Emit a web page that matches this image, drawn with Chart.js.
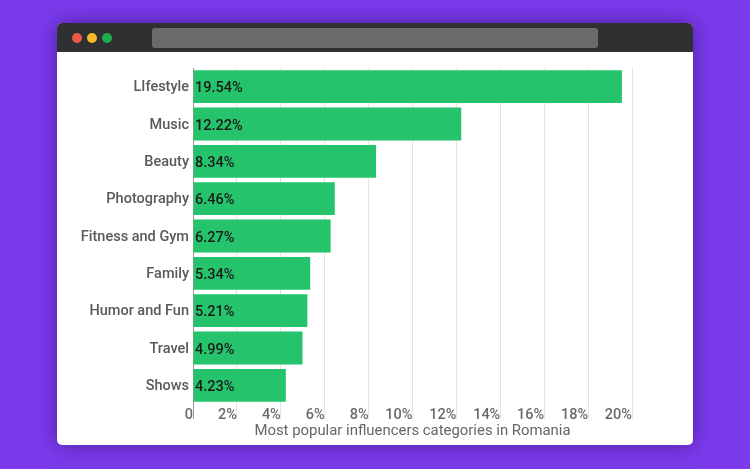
<!DOCTYPE html>
<html>
<head>
<meta charset="utf-8">
<script src="https://cdn.jsdelivr.net/npm/chart.js@4.4.0/dist/chart.umd.min.js"></script>
<style>
  html, body { margin:0; padding:0; width:750px; height:469px; overflow:hidden; background:#7b3bec; font-family: Roboto, sans-serif; }
  .win { position:absolute; left:57px; top:23px; width:636px; height:422px; background:#fff; border-radius:5px; box-shadow:0 0 22px rgba(40,10,90,0.55); overflow:hidden; }
  .bar { position:absolute; left:0; top:0; width:636px; height:29px; background:#2e3032; }
  .dot { position:absolute; top:10px; width:10px; height:10px; border-radius:50%; }
  .addr { position:absolute; left:95px; top:5px; width:446px; height:20px; background:#6b6b6b; border-radius:3px; }
  .content { position:absolute; left:0; top:29px; width:636px; height:393px; }
</style>
</head>
<body>
<div class="win">
  <div class="bar">
    <div class="dot" style="left:15px;background:#ec5a4c"></div>
    <div class="dot" style="left:30px;background:#f6b92c"></div>
    <div class="dot" style="left:45px;background:#1fae4d"></div>
    <div class="addr"></div>
  </div>
  <div class="content"><canvas id="c"></canvas></div>
</div>
<script>
const categories = ["LIfestyle", "Music", "Beauty", "Photography", "Fitness and Gym", "Family", "Humor and Fun", "Travel", "Shows"];
const values = [19.54, 12.22, 8.34, 6.46, 6.27, 5.34, 5.21, 4.99, 4.23];
const tickValues = [0, 2, 4, 6, 8, 10, 12, 14, 16, 18, 20];
const axisTitle = "Most popular influencers categories in Romania";

const valueLabels = {
  id: 'valueLabels',
  afterDatasetsDraw(chart) {
    const ctx = chart.ctx;
    const meta = chart.getDatasetMeta(0);
    ctx.save();
    ctx.font = '500 14.5px Roboto';
    ctx.fillStyle = '#1a1a1a';
    ctx.textAlign = 'left';
    ctx.textBaseline = 'middle';
    meta.data.forEach((bar, i) => {
      ctx.fillText(values[i].toFixed(2) + '%', bar.base + 1.5, bar.y + 2);
    });
    ctx.restore();
  }
};

new Chart(document.getElementById('c'), {
  type: 'bar',
  data: {
    labels: categories,
    datasets: [{
      data: values,
      backgroundColor: '#25c46c',
      borderWidth: 0,
      categoryPercentage: 1,
      barPercentage: 0.88
    }]
  },
  plugins: [valueLabels],
  options: {
    indexAxis: 'y',
    responsive: true,
    maintainAspectRatio: false,
    animation: false,
    layout: { padding: { top: 16, right: 61, bottom: 0, left: 0 } },
    plugins: { legend: { display: false }, tooltip: { enabled: false } },
    scales: {
      x: {
        min: 0, max: 20,
        afterBuildTicks(scale) { scale.ticks = tickValues.map(v => ({ value: v })); },
        afterFit(scale) { scale.height = 41; },
        grid: {
          color: (c) => (c.tick && c.tick.value === 0) ? '#9a9a9a' : '#e3e3e3',
          lineWidth: 1,
          tickLength: 15,
          drawTicks: true
        },
        border: { display: false },
        ticks: {
          align: 'end',
          padding: -12,
          color: '#6b6b6b',
          font: { family: 'Roboto', size: 14.5, weight: '500' },
          callback: (v) => v === 0 ? '0' : v + '%'
        },
        title: {
          display: true,
          text: axisTitle,
          color: '#666',
          font: { family: 'Roboto', size: 14.9, weight: '400' },
          padding: { top: 0, bottom: 5 }
        }
      },
      y: {
        afterFit(scale) { scale.width = 136; },
        grid: { display: false, drawTicks: false },
        border: { display: false },
        ticks: {
          padding: 4,
          labelOffset: 1,
          color: '#595959',
          font: { family: 'Roboto', size: 14.5, weight: '500' }
        }
      }
    }
  }
});
</script>
</body>
</html>
